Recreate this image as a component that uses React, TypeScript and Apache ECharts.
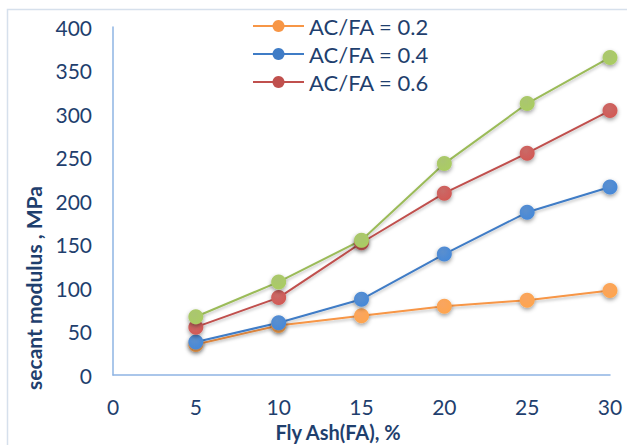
import React, { useEffect, useRef } from "react";
import * as echarts from "echarts";

const xValues = [5, 10, 15, 20, 25, 30];
const xTicks = [0, 5, 10, 15, 20, 25, 30];
const seriesNames = ["AC/FA = 0.2", "AC/FA = 0.4", "AC/FA = 0.6", "AC/FA = 0.8"];
const orange02 = [35, 57, 68, 79, 86, 97];
const blue04 = [38, 60, 87, 139, 187, 216];
const red06 = [55, 89, 152, 209, 255, 304];
const green = [67, 107, 155, 243, 312, 365];
const colors = ["#F79646", "#3F7CC6", "#C0504D", "#9BBB59"];

const FONT = "Lato";
const TEXT = "#1F3F6E";

function makeSeries(name: string, vals: number[], color: string) {
  return {
    name,
    type: "line",
    data: xValues.map((x, i) => [x, vals[i]]),
    symbol: "circle",
    symbolSize: 15,
    lineStyle: {
      color,
      width: 2,
      shadowColor: "rgba(0,0,0,0.25)",
      shadowBlur: 3,
      shadowOffsetY: 2,
    },
    itemStyle: {
      color: new echarts.graphic.RadialGradient(0.4, 0.35, 0.7, [
        { offset: 0, color: echarts.color.lift(color, 0.15) },
        { offset: 1, color: echarts.color.lift(color, -0.1) },
      ]),
      borderWidth: 0,
      shadowColor: "rgba(0,0,0,0.4)",
      shadowBlur: 4,
      shadowOffsetY: 2,
    },
    emphasis: { disabled: true },
  };
}

export default function App() {
  const ref = useRef<HTMLDivElement>(null);
  useEffect(() => {
    if (!ref.current) return;
    const chart = echarts.init(ref.current, undefined, { renderer: "svg" });
    chart.setOption({
      animation: false,
      backgroundColor: "#ffffff",
      grid: { left: 113, top: 27, right: 17, bottom: 70, containLabel: false },
      legend: {
        data: seriesNames.slice(0, 3).map((n, i) => ({ name: n, itemStyle: { color: colors[i] } })),
        orient: "vertical",
        left: 252,
        top: 15,
        padding: 0,
        itemWidth: 51,
        itemHeight: 15,
        itemGap: 6,
        textStyle: { fontFamily: FONT, fontSize: 22, color: TEXT, lineHeight: 22 },
      },
      xAxis: {
        type: "value",
        min: 0,
        max: 30,
        interval: 5,
        axisLine: { show: true, lineStyle: { color: "#8EB4E3", width: 1.5 } },
        axisTick: { show: false },
        splitLine: { show: false },
        axisLabel: {
          fontFamily: FONT,
          fontSize: 21,
          color: TEXT,
          margin: 21,
          formatter: (v: number) => (xTicks.includes(v) ? String(v) : ""),
        },
      },
      yAxis: {
        type: "value",
        min: 0,
        max: 400,
        interval: 50,
        axisLine: { show: true, lineStyle: { color: "#8EB4E3", width: 1.5 } },
        axisTick: { show: false },
        splitLine: { show: false },
        axisLabel: { fontFamily: FONT, fontSize: 21, color: TEXT, margin: 21 },
      },
      graphic: [
        {
          type: "rect",
          shape: { x: 7.5, y: 9.5, width: 700, height: 500 },
          style: { fill: "none", stroke: "#D6E0EC", lineWidth: 1.5 },
          silent: true,
          z: -1,
        },
        {
          type: "text",
          x: 33,
          y: 288,
          rotation: Math.PI / 2,
          style: {
            text: "secant modulus , MPa",
            font: `bold 21px ${FONT}`,
            fill: TEXT,
            align: "center",
            verticalAlign: "middle",
          },
        },
        {
          type: "text",
          x: 338,
          y: 432,
          style: {
            text: "Fly Ash(FA), %",
            font: `bold 20px ${FONT}`,
            fill: TEXT,
            align: "center",
            verticalAlign: "middle",
          },
        },
      ],
      series: [
        makeSeries(seriesNames[0], orange02, colors[0]),
        makeSeries(seriesNames[1], blue04, colors[1]),
        makeSeries(seriesNames[2], red06, colors[2]),
        makeSeries(seriesNames[3], green, colors[3]),
      ],
    });
    return () => chart.dispose();
  }, []);
  return (
    <div
      ref={ref}
      style={{ position: "absolute", left: 0, top: 0, width: 627, height: 445 }}
    />
  );
}
